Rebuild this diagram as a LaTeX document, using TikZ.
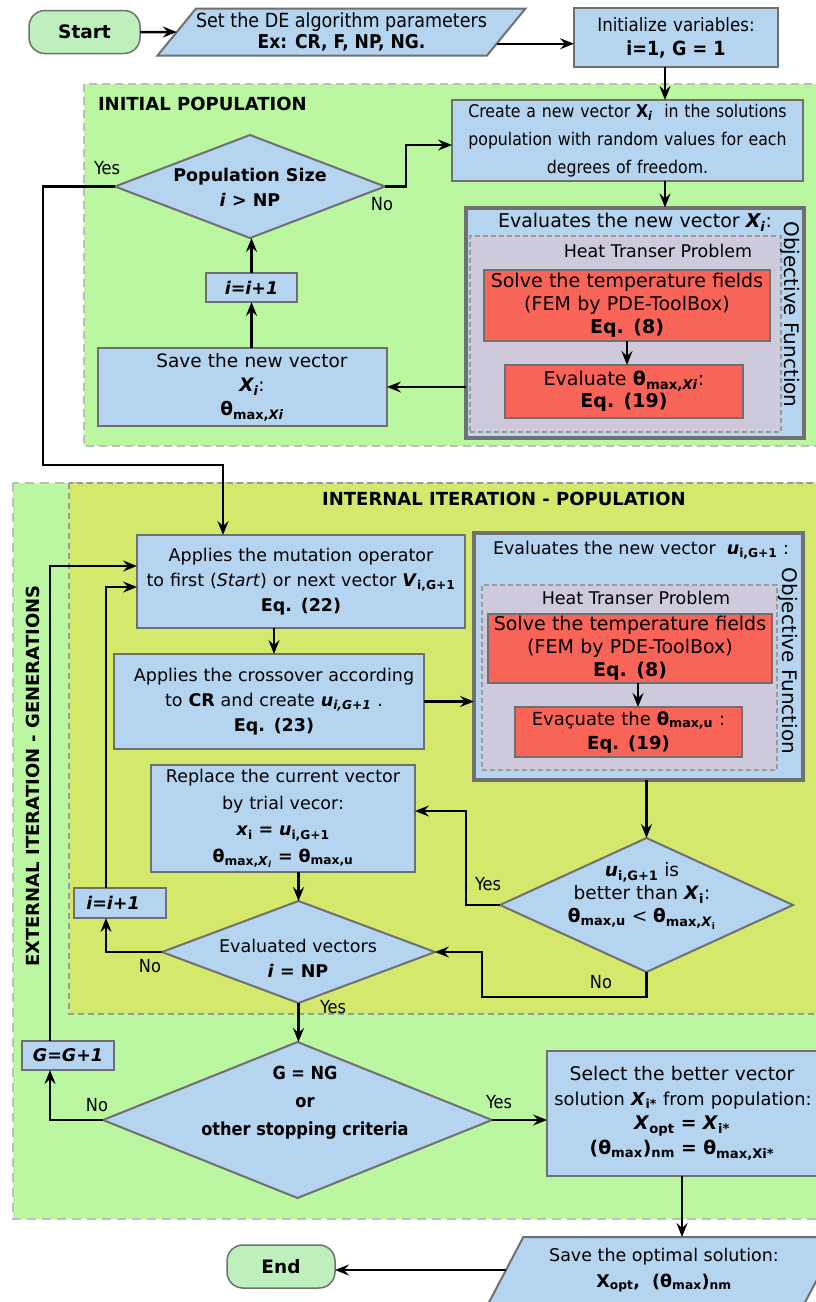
\documentclass[tikz,border=0pt]{standalone}
\usepackage{fontspec}
\setmainfont{DejaVu Sans}
\newfontfamily\cnd{DejaVu Sans Condensed}
\usetikzlibrary{arrows.meta,shapes.geometric,calc}
\definecolor{regiongreen}{HTML}{BAF7A0}
\definecolor{regionyellow}{HTML}{D4E86C}
\definecolor{boxblue}{HTML}{B4D4F0}
\definecolor{boxred}{HTML}{F96459}
\definecolor{boxpurple}{HTML}{CECADC}
\definecolor{termgreen}{HTML}{BDF0BD}
\definecolor{bordergray}{HTML}{707070}
\definecolor{dashgray}{HTML}{BDBDBD}
\definecolor{dashgraydark}{HTML}{9A9A9A}
\newcommand\fs[2]{\fontsize{#1}{#2}\selectfont}
\tikzset{
  every node/.style={inner sep=0pt, outer sep=0pt, font=\fs{17.5}{25}},
  regionext/.style={draw=dashgray, fill=regiongreen, line width=2.6pt, dash pattern=on 9pt off 6pt},
  regioninit/.style={draw=dashgray, fill=regiongreen, line width=2pt, dash pattern=on 8pt off 5pt},
  regionint/.style={draw=dashgraydark, fill=regionyellow, line width=1.3pt, dash pattern=on 6pt off 4pt},
  proc/.style={rectangle, draw=bordergray, fill=boxblue, line width=2.4pt, align=center},
  smallbox/.style={rectangle, draw=bordergray, fill=boxblue, line width=1.4pt, align=center},
  evalbox/.style={rectangle, draw=bordergray, fill=boxblue, line width=4pt},
  heatbox/.style={rectangle, draw=dashgraydark, fill=boxpurple, line width=1.3pt, dash pattern=on 5pt off 3pt},
  redbox/.style={rectangle, draw=bordergray, fill=boxred, line width=2pt, align=center},
  term/.style={rectangle, rounded corners=16pt, draw=bordergray, fill=termgreen, line width=1.5pt},
  para/.style={trapezium, trapezium stretches=true, draw=bordergray, fill=boxblue, line width=2pt, align=center},
  dia/.style={diamond, draw=bordergray, fill=boxblue, line width=2pt},
  arr/.style={draw=black, line width=2.5pt, -{Stealth[length=14pt,width=11pt,inset=5pt]}},
  lbl/.style={font=\cnd\fs{18}{20}},
  hdr/.style={font=\bfseries\fs{18}{20}},
  vlbl/.style={font=\fs{20}{22}},
}
\begin{document}
\begin{tikzpicture}[x=1pt,y=-1pt]
\useasboundingbox (0,0) rectangle (815,1302);
% regions
\draw[regionext] (13,483) rectangle (840,1219);
\draw[regionint] (69,483) rectangle (840,1014);
\draw[regioninit] (84,84) rectangle (840,446);
\node[hdr, anchor=west] (hInit) at (98,103.5) {INITIAL POPULATION};
\node[hdr] (hInt) at (504,499) {INTERNAL ITERATION - POPULATION};
\node[hdr, rotate=90] (hExt) at (33,776) {EXTERNAL ITERATION - GENERATIONS};

% top row
\node[term, minimum width=111pt, minimum height=43pt, font=\bfseries\fs{18.5}{20}] (start) at (84.5,32) {Start};
\node[para, trapezium left angle=45, trapezium right angle=135, minimum width=357pt, minimum height=47pt, font=\cnd\fs{19.5}{21}] (param) at (341.5,32) {Set the DE algorithm parameters\\\fs{19}{21}\textbf{Ex: CR, F, NP, NG.}};
\node[proc, text width=204pt, minimum height=59pt, font=\cnd\fs{18.5}{24}] (init) at (676,37.5) {Initialize variables:\\\fs{19.5}{24}\textbf{i=1, G = 1}};

% initial population
\node[proc, text width=351pt, minimum height=81pt, font=\cnd\fs{17.5}{28}] (create) at (627.5,140.5) {Create a new vector \textbf{X\textsubscript{\textit{i}}}\ \ in the solutions\\population with random values for each\\degrees of freedom.};
\node[evalbox, minimum width=338pt, minimum height=230pt] (eval1) at (635,322.5) {};
\node[font=\fs{19}{21}] (eval1t) at (635,222) {Evaluates the new vector \textbf{\textit{X\textsubscript{i}}}:};
\node[heatbox, minimum width=311pt, minimum height=196pt] (heat1) at (625.5,334) {};
\node (heat1t) at (658,251) {Heat Transer Problem};
\node[redbox, text width=286pt, minimum height=71pt, font=\fs{19}{23}] (solve1) at (627,305.5) {Solve the temperature fields\\(FEM by PDE-ToolBox)\\\textbf{Eq. (8)}};
\node[redbox, text width=238pt, minimum height=53pt, font=\fs{19}{22}] (evalu1) at (624,391.5) {Evaluate \textbf{θ\textsubscript{max,\textit{Xi}}}:\\\textbf{Eq. (19)}};
\node[vlbl, rotate=-90] (obj1) at (790,314.5) {Objective Function};
\node[proc, text width=289pt, minimum height=78pt, font=\fs{18.5}{24}] (save) at (242.5,387) {\hspace*{19pt}Save the new vector\\\hspace*{19pt}\textbf{\textit{X\textsubscript{i}}}:\\\hspace*{19pt}\textbf{θ\textsubscript{max,\textit{Xi}}}};
\node[smallbox, minimum width=91pt, minimum height=29pt] (inc1) at (251.5,287.5) {\textbf{\textit{i=i+1}}};
\node[dia, minimum width=270pt, minimum height=103pt] (pop) at (250,186.5) {};
\node[align=center] (popt) at (250,187) {\textbf{Population Size}\\\textbf{\textit{i} > NP}};

% internal iteration
\node[proc, text width=328pt, minimum height=93pt] (mut) at (301,581.5) {Applies the mutation operator\\to first (\textit{Start}) or next vector \textbf{\textit{V}\textsubscript{i,G+1}}\\\textbf{Eq. (22)}};
\node[proc, text width=310pt, minimum height=95pt] (cross) at (269,701.5) {\hspace*{10pt}Applies the crossover according\\\hspace*{10pt}to \textbf{CR} and create \textbf{\textit{u\textsubscript{i,G+1}}} .\\\hspace*{10pt}\textbf{Eq. (23)}};
\node[evalbox, minimum width=329pt, minimum height=247pt] (eval2) at (638.5,656.5) {};
\node (eval2t) at (641,550) {Evaluates the new vector\ \ \textbf{\textit{u}\textsubscript{i,G+1}} :};
\node[heatbox, minimum width=295pt, minimum height=185pt] (heat2) at (629.5,677.5) {};
\node (heat2t) at (636,598) {Heat Transer Problem};
\node[redbox, text width=284pt, minimum height=69pt, font=\fs{19}{23}] (solve2) at (630,648.5) {Solve the temperature fields\\(FEM by PDE-ToolBox)\\\textbf{Eq. (8)}};
\node[redbox, text width=227pt, minimum height=50pt, font=\fs{18}{24}] (evalu2) at (628.5,732) {Evaçuate the \textbf{θ\textsubscript{max,u}} :\\\textbf{Eq. (19)}};
\node[vlbl, rotate=-90] (obj2) at (788,661) {Objective Function};
\node[dia, minimum width=293pt, minimum height=134pt] (better) at (646.5,905) {};
\node[align=center, font=\fs{18.5}{23}] (bettert) at (642,896) {\textbf{\textit{u}\textsubscript{i,G+1}} is\\better than \textbf{\textit{X}\textsubscript{i}}:\\\textbf{θ\textsubscript{max,u}} < \textbf{θ\textsubscript{max,\textit{X}\textsubscript{i}}}};
\node[proc, text width=264pt, minimum height=107pt, font=\fs{17.5}{26.5}] (replace) at (283,818.5) {Replace the current vector\\by trial vecor:\\\textbf{\textit{x}\textsubscript{i} = \textit{u}\textsubscript{i,G+1}}\\\textbf{θ\textsubscript{max,\textit{X}\textsubscript{\textit{i}}} = θ\textsubscript{max,u}}};
\node[dia, minimum width=273pt, minimum height=102pt] (evalv) at (298.5,952) {};
\node[align=center] (evalvt) at (298,958) {Evaluated vectors\\\textbf{\textit{i} = NP}};
\node[smallbox, minimum width=92pt, minimum height=30pt] (inc2) at (120,903) {\textbf{\textit{i=i+1}}\hspace*{14pt}};

% external iteration
\node[smallbox, minimum width=92pt, minimum height=29pt] (gbox) at (68,1055.5) {\textbf{\textit{G=G+1}}};
\node[dia, minimum width=389pt, minimum height=156pt] (gng) at (297.5,1120) {};
\node[align=center, font=\cnd\bfseries\fs{18}{28}] (gngt) at (305,1103) {G = NG\\or\\other stopping criteria};
\node[proc, text width=270pt, minimum height=125pt, font=\fs{18.8}{24.5}] (select) at (682,1113.5) {Select the better vector\\\mbox{\fs{17.8}{24.5}\hspace*{2pt}solution \textbf{\textit{X}\textsubscript{i*}} from population:}\\\textbf{\textit{X}\textsubscript{opt} = \textit{X}\textsubscript{i*}}\\\textbf{(θ\textsubscript{max})\textsubscript{nm} = θ\textsubscript{max,Xi*}}};
\node[para, trapezium left angle=57.5, trapezium right angle=122.5, minimum width=352pt, minimum height=66pt, font=\fs{17.5}{26}] (saveopt) at (664,1270) {Save the optimal solution:\\\textbf{X\textsubscript{opt}, \ (θ\textsubscript{max})\textsubscript{nm}}};
\node[term, minimum width=108pt, minimum height=43pt, font=\bfseries\fs{18.5}{20}] (end) at (281,1266.5) {End};

% connectors
\draw[arr] (start.east) -- (param.west);
\path ($(param.bottom right corner)!0.25!(param.top right corner)$) coordinate (pe);
\draw[arr] (pe) -- (pe -| init.west);
\draw[arr] ([xshift=-11pt]init.south) -- ([xshift=-11pt]init.south |- create.north);
\draw[arr] ([xshift=37.5pt]create.south) -- ([xshift=37.5pt]create.south |- eval1.north);
\draw[arr] (solve1.south) -- (solve1.south |- evalu1.north);
\draw[arr] (eval1.west |- save.east) -- (save.east);
\draw[arr] (inc1.south |- save.north) -- (inc1.south);
\draw[arr] (inc1.north) -- (inc1.north |- pop.south);
\draw[arr] (pop.east) -- ++(21,0) |- ([yshift=-4.5pt]create.west);
\coordinate (ybend) at (43,465);
\draw[arr] (pop.west) -| (ybend) -| ([xshift=-78pt]mut.north);
\draw[arr] ([xshift=5pt]cross.north |- mut.south) -- ([xshift=5pt]cross.north);
\draw[arr] (cross.east) -- (cross.east -| eval2.west);
\draw[arr] ([xshift=8pt]solve2.south) -- ([xshift=8pt]solve2.south |- evalu2.north);
\draw[arr] (better.north |- eval2.south) -- (better.north);
\draw[arr] (better.west) -- ++(-34,0) |- ([yshift=7.5pt]replace.east);
\coordinate (nbend) at (482,997);
\draw[arr] (better.south) |- (nbend) |- (evalv.east);
\draw[arr] (evalv.north |- replace.south) -- (evalv.north);
\draw[arr] (evalv.west) -| ([xshift=-14pt]inc2.south);
\draw[arr] ([xshift=-14pt]inc2.north) |- ([yshift=-5.5pt]mut.west);
\draw[arr] (evalv.south) -- (evalv.south |- gng.north);
\draw[arr] (gng.west) -| ([xshift=-18pt]gbox.south);
\draw[arr] ([xshift=-18pt]gbox.north) |- ([yshift=15.5pt]mut.west);
\draw[arr] (gng.east) -- (gng.east -| select.west);
\draw[arr] (select.south) -- (select.south |- saveopt.north);
\draw[arr] (saveopt.west) -- (saveopt.west -| end.east);

% branch labels
\node[lbl] (l1) at (107,168) {Yes};
\node[lbl] (l2) at (382,204) {No};
\node[lbl] (l3) at (488,884) {Yes};
\node[lbl] (l4) at (601,982) {No};
\node[lbl] (l5) at (150,966) {No};
\node[lbl] (l6) at (333,1007) {Yes};
\node[lbl] (l7) at (97,1105) {No};
\node[lbl] (l8) at (499,1102) {Yes};
\end{tikzpicture}
\end{document}
